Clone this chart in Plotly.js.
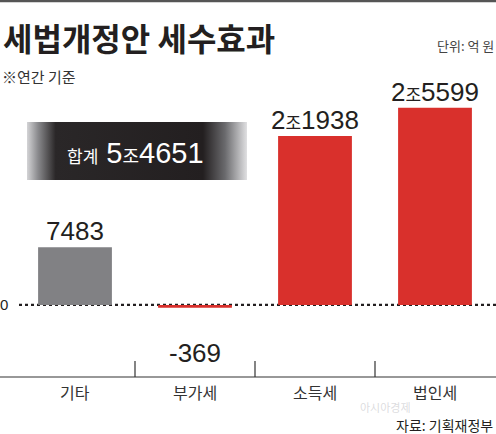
<!DOCTYPE html>
<html><head><meta charset="utf-8">
<script src="https://cdn.plot.ly/plotly-3.0.1.min.js"></script>
<style>html,body{margin:0;padding:0;background:#fff}#chart{width:496px;height:434px}</style>
</head><body><div id="chart"></div>
<script>
const categories = ['기타', '부가세', '소득세', '법인세'];
const values = [7483, -369, 21938, 25599];
const barColors = ['#818184', '#d9302c', '#d9302c', '#d9302c'];
const totalValue = 54651;
const titleText = '세법개정안 세수효과';
const unitText = '단위: 억 원';
const noteText = '※연간 기준';
const sourceText = '자료: 기획재정부';

const NUM = '"Liberation Sans", "Noto Sans CJK KR", sans-serif';
const KR = '"Noto Sans CJK KR", sans-serif';

function fmt(v, joSize) {
  if (Math.abs(v) >= 10000) {
    const jo = Math.floor(v / 10000), rest = v % 10000;
    return jo + "<span style='font-size:" + joSize + "px;font-family:Noto Sans CJK KR'>조</span>" + String(rest).padStart(4, '0');
  }
  return String(v);
}

const trace = {
  type: 'bar', x: categories, y: values,
  marker: {color: barColors, line: {width: 0}},
  width: 0.615, hoverinfo: 'skip'
};

// gradient box
const svg = "<svg xmlns='http://www.w3.org/2000/svg' width='220' height='58'><defs><linearGradient id='g' x1='0' x2='1' y1='0' y2='0'>" +
  "<stop offset='0' stop-color='#d4d4d6'/><stop offset='0.05' stop-color='#8a8a8d'/><stop offset='0.13' stop-color='#2a2728'/>" +
  "<stop offset='0.8' stop-color='#231f20'/><stop offset='0.9' stop-color='#6a6a6d'/><stop offset='1' stop-color='#e0e0e2'/>" +
  "</linearGradient></defs><rect width='220' height='58' fill='url(#g)'/></svg>";
const svgURI = 'data:image/svg+xml;base64,' + btoa(svg);

const H = 317, W = 480, L = 15, T = 60;
const px2x = p => (p - L) / W;
const py2y = p => (T + H - p) / H;

const annotations = [];
values.forEach((v, i) => {
  annotations.push({
    x: categories[i], y: v, xref: 'x', yref: 'y',
    text: fmt(v, 17), showarrow: false,
    yanchor: v >= 0 ? 'bottom' : 'top', yshift: v >= 0 ? -1 : -28,
    font: {family: NUM, size: 26, color: '#231f20'}
  });
});
annotations.push(
  {xref: 'paper', yref: 'paper', x: px2x(1), y: py2y(37), xanchor: 'left', yanchor: 'middle', showarrow: false,
   text: '<b>' + titleText + '</b>', font: {family: KR, size: 32, color: '#231f20'}},
  {xref: 'paper', yref: 'paper', x: px2x(496), y: py2y(45), xanchor: 'right', yanchor: 'middle', showarrow: false,
   text: unitText, font: {family: KR, size: 13, color: '#444'}},
  {xref: 'paper', yref: 'paper', x: px2x(0), y: py2y(76), xanchor: 'left', yanchor: 'middle', showarrow: false,
   text: noteText, font: {family: KR, size: 15, color: '#333'}},
  {xref: 'paper', yref: 'paper', x: px2x(135), y: py2y(153), xanchor: 'center', yanchor: 'middle', showarrow: false,
   text: "<span style='font-size:17px;font-family:Noto Sans CJK KR'>합계</span> 5<span style='font-size:18px;font-family:Noto Sans CJK KR'>조</span>" + String(totalValue % 10000),
   font: {family: NUM, size: 29, color: '#ffffff'}},
  {xref: 'paper', yref: 'y', x: px2x(4), y: 0, xanchor: 'center', yanchor: 'middle', showarrow: false,
   text: '0', font: {family: NUM, size: 15, color: '#231f20'}},
  {xref: 'paper', yref: 'paper', x: px2x(385), y: py2y(407), xanchor: 'center', yanchor: 'middle', showarrow: false,
   text: '아시아경제', font: {family: KR, size: 11, color: 'rgba(190,190,195,0.55)'}},
  {xref: 'paper', yref: 'paper', x: px2x(495), y: py2y(425), xanchor: 'right', yanchor: 'middle', showarrow: false,
   text: sourceText, font: {family: KR, size: 14, color: '#231f20'}}
);
categories.forEach((c, i) => {
  annotations.push({x: c, xref: 'x', yref: 'paper', y: py2y(392), yanchor: 'middle', showarrow: false,
    text: c, font: {family: KR, size: 16, color: '#333'}});
});

const shapes = [
  {type: 'line', xref: 'paper', yref: 'paper', x0: px2x(0), x1: px2x(496), y0: py2y(1), y1: py2y(1),
   line: {color: '#555', width: 2.5}},
  {type: 'line', xref: 'paper', yref: 'paper', x0: px2x(0), x1: px2x(496), y0: 0, y1: 0,
   line: {color: '#333', width: 1.2}},
  {type: 'line', xref: 'paper', yref: 'y', x0: px2x(19), x1: px2x(496), y0: 0, y1: 0,
   line: {color: '#231f20', width: 2.2, dash: 'dot'}, layer: 'below'}
];
[0.5, 1.5, 2.5].forEach(xv => shapes.push({type: 'line', xref: 'x', yref: 'paper', x0: xv, x1: xv, y0: 0, y1: py2y(361),
  line: {color: '#333', width: 1.2}}));

const layout = {
  width: 496, height: 434,
  margin: {l: L, r: 1, t: T, b: 57},
  paper_bgcolor: '#fff', plot_bgcolor: 'rgba(0,0,0,0)',
  showlegend: false, bargap: 0.385,
  xaxis: {range: [-0.5, 3.5], showticklabels: false, showgrid: false, zeroline: false, showline: false, fixedrange: true},
  yaxis: {range: [-9350, 31800], showticklabels: false, showgrid: false, zeroline: false, showline: false, fixedrange: true},
  images: [{source: svgURI, xref: 'paper', yref: 'paper', x: px2x(27), y: py2y(122), sizex: 220 / W, sizey: 58 / H,
    xanchor: 'left', yanchor: 'top', sizing: 'stretch', layer: 'above'}],
  annotations: annotations, shapes: shapes
};
Plotly.newPlot('chart', [trace], layout, {displayModeBar: false, staticPlot: true});
</script></body></html>
